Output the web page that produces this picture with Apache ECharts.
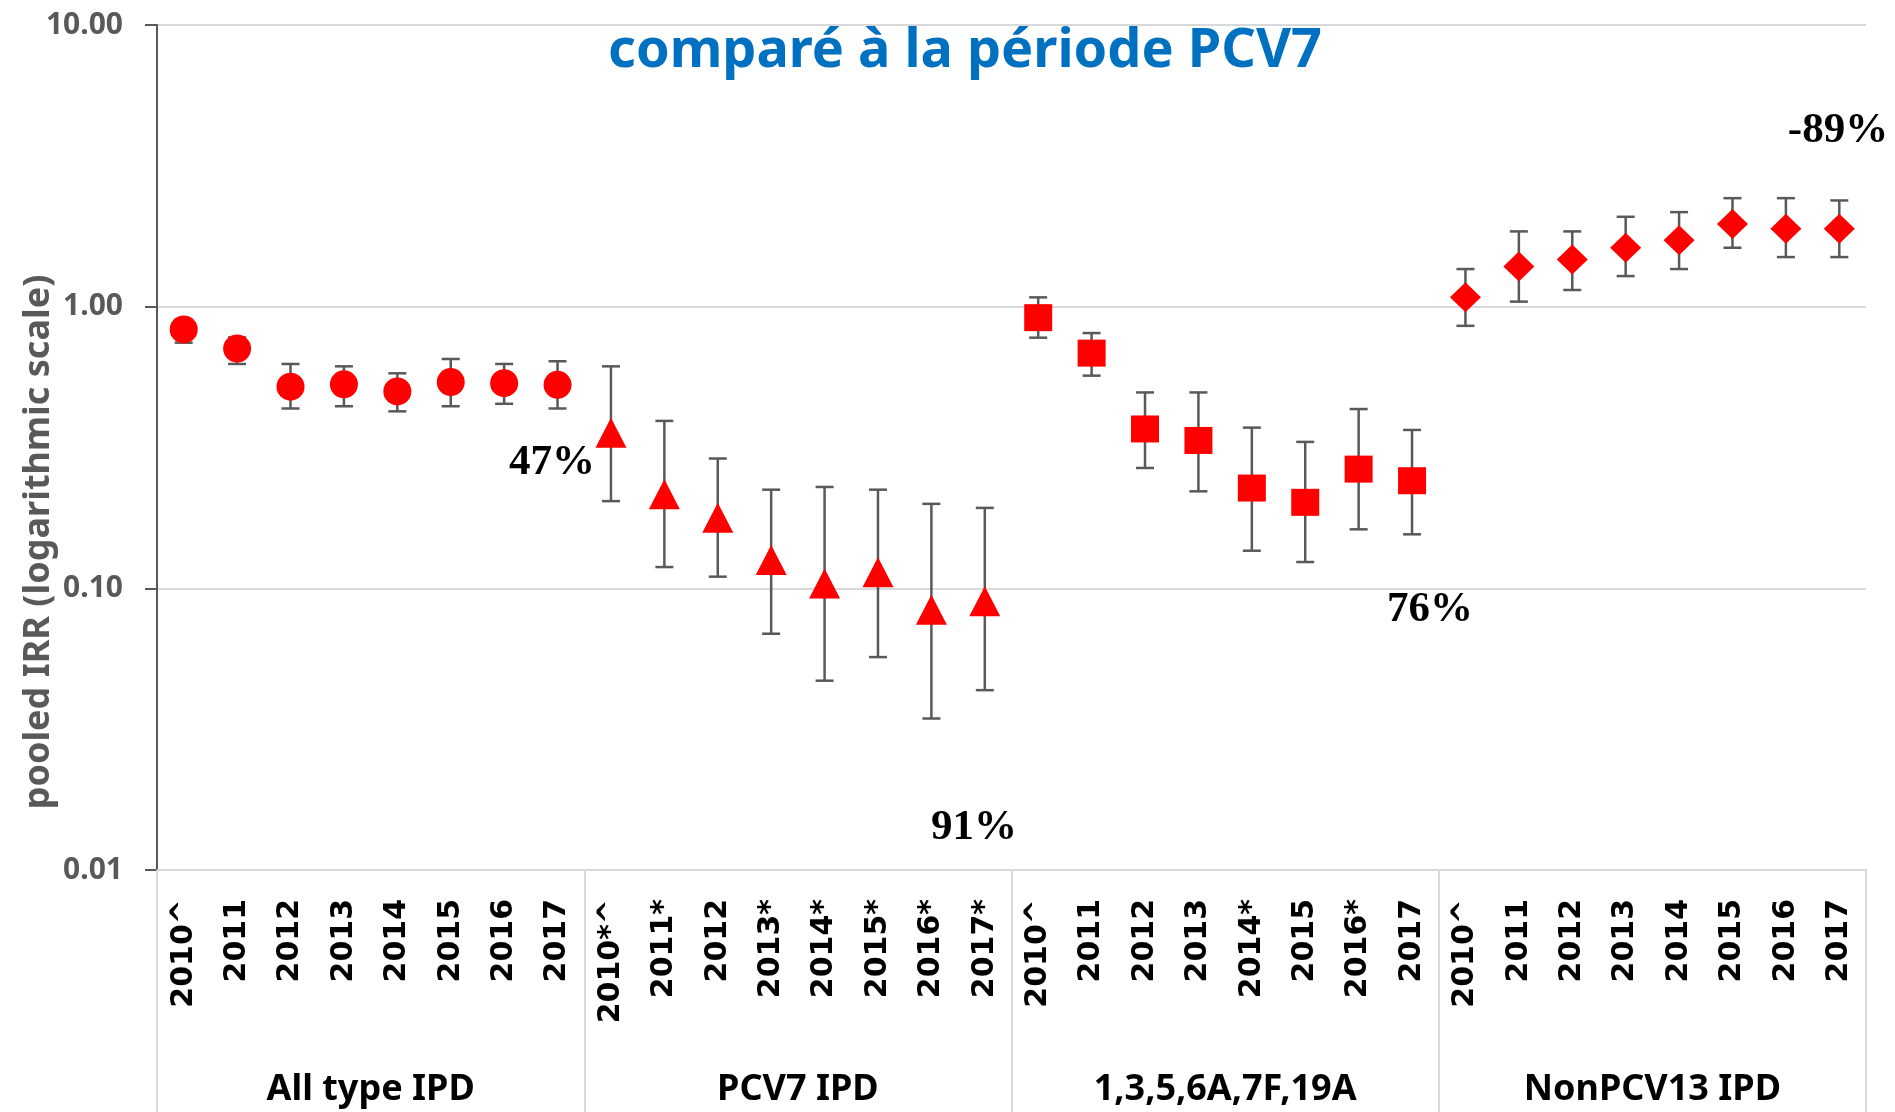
<!DOCTYPE html>
<html><head><meta charset="utf-8">
<script src="https://cdn.jsdelivr.net/npm/echarts@6/dist/echarts.min.js"></script>
<style>html,body{margin:0;padding:0;background:#fff}#c{width:1895px;height:1112px}</style>
</head><body><div id="c"></div>
<script>
// ---- data ----
const categories = [
  '2010^','2011','2012','2013','2014','2015','2016','2017',
  '2010*^','2011*','2012','2013*','2014*','2015*','2016*','2017*',
  '2010^','2011','2012','2013','2014*','2015','2016*','2017',
  '2010^','2011','2012','2013','2014','2015','2016','2017'
];
const groupNames = ['All type IPD', 'PCV7 IPD', '1,3,5,6A,7F,19A', 'NonPCV13 IPD'];
const yTickLabels = ['0.01', '0.10', '1.00', '10.00'];

const allTypeIRR  = [0.83, 0.71, 0.52, 0.53, 0.50, 0.54, 0.535, 0.528];
const allTypeLow  = [0.745, 0.626, 0.435, 0.443, 0.425, 0.443, 0.452, 0.435];
const allTypeHigh = [0.90, 0.778, 0.626, 0.614, 0.580, 0.652, 0.626, 0.640];

const pcv7IRR  = [0.357, 0.216, 0.178, 0.126, 0.104, 0.114, 0.084, 0.090];
const pcv7Low  = [0.204, 0.119, 0.110, 0.069, 0.047, 0.057, 0.0345, 0.0435];
const pcv7High = [0.614, 0.393, 0.289, 0.224, 0.229, 0.224, 0.1995, 0.193];

const seroIRR  = [0.914, 0.684, 0.368, 0.335, 0.227, 0.202, 0.265, 0.241];
const seroLow  = [0.776, 0.569, 0.2675, 0.221, 0.136, 0.124, 0.162, 0.1555];
const seroHigh = [1.079, 0.806, 0.496, 0.496, 0.372, 0.331, 0.433, 0.365];

const nonIRR  = [1.08, 1.39, 1.47, 1.62, 1.72, 1.965, 1.89, 1.89];
const nonLow  = [0.855, 1.042, 1.146, 1.284, 1.36, 1.619, 1.50, 1.50];
const nonHigh = [1.36, 1.85, 1.85, 2.085, 2.166, 2.428, 2.428, 2.383];

const annotations = ['47%', '91%', '76%', '-89%'];
const titleText = 'comparé à la période PCV7';
const yAxisTitle = 'pooled IRR (logarithmic scale)';

// ---- chart ----
const groups = [
  {name: groupNames[0], v: allTypeIRR, lo: allTypeLow, hi: allTypeHigh, symbol: 'circle', size: 28},
  {name: groupNames[1], v: pcv7IRR, lo: pcv7Low, hi: pcv7High, symbol: 'triangle', size: [31, 30]},
  {name: groupNames[2], v: seroIRR, lo: seroLow, hi: seroHigh, symbol: 'rect', size: [28, 27]},
  {name: groupNames[3], v: nonIRR, lo: nonLow, hi: nonHigh, symbol: 'diamond', size: [31, 30]}
];
const nPer = 8;
const errData = [];
groups.forEach((g, gi) => g.v.forEach((_, i) => errData.push([gi * nPer + i, g.lo[i], g.hi[i]])));

const series = [{
  type: 'custom',
  xAxisIndex: 0,
  z: 2,
  data: errData,
  encode: {x: 0, y: [1, 2]},
  renderItem: function (params, api) {
    const x = api.value(0);
    const pLo = api.coord([x, api.value(1)]);
    const pHi = api.coord([x, api.value(2)]);
    const hw = 9;
    const st = {stroke: '#595959', lineWidth: 2.5};
    return {
      type: 'group',
      children: [
        {type: 'line', shape: {x1: pLo[0], y1: pLo[1], x2: pHi[0], y2: pHi[1]}, style: st},
        {type: 'line', shape: {x1: pLo[0] - hw, y1: pLo[1], x2: pLo[0] + hw, y2: pLo[1]}, style: st},
        {type: 'line', shape: {x1: pHi[0] - hw, y1: pHi[1], x2: pHi[0] + hw, y2: pHi[1]}, style: st}
      ]
    };
  }
}];
groups.forEach((g, gi) => {
  series.push({
    type: 'scatter',
    name: g.name,
    xAxisIndex: 0,
    z: 5,
    symbol: g.symbol,
    symbolSize: g.size,
    itemStyle: {color: '#FF0000', opacity: 1},
    data: g.v.map((val, i) => [gi * nPer + i, val])
  });
});

const chart = echarts.init(document.getElementById('c'));
chart.setOption({
  animation: false,
  backgroundColor: '#fff',
  title: {
    text: titleText,
    left: 960,
    textAlign: 'center',
    top: 20,
    textStyle: {color: '#0070C0', fontFamily: 'Noto Sans', fontWeight: 'bold', fontSize: 54}
  },
  grid: {left: 157, right: 29, top: 25, bottom: 242, containLabel: false},
  xAxis: [{
    type: 'category',
    data: categories,
    boundaryGap: true,
    position: 'bottom',
    axisLine: {lineStyle: {color: '#D9D9D9', width: 2}},
    axisTick: {show: false},
    axisLabel: {
      interval: 0, rotate: 90, margin: 29,
      color: '#000', fontFamily: 'DejaVu Sans', fontWeight: 'bold', fontSize: 30
    },
    splitLine: {show: false}
  }, {
    type: 'category',
    data: groupNames,
    boundaryGap: true,
    position: 'bottom',
    axisLine: {show: false},
    axisTick: {show: true, length: 242, lineStyle: {color: '#D9D9D9', width: 2}},
    axisLabel: {
      interval: 0, margin: 202,
      color: '#000', fontFamily: 'Noto Sans', fontWeight: 'bold', fontSize: 36
    },
    splitLine: {show: false}
  }],
  yAxis: {
    type: 'log',
    logBase: 10,
    min: 0.01,
    max: 10,
    axisLine: {show: true, lineStyle: {color: '#595959', width: 2}},
    axisTick: {show: true, length: 12, lineStyle: {color: '#595959', width: 2}},
    axisLabel: {
      margin: 34,
      color: '#595959', fontFamily: 'Noto Sans', fontWeight: 'bold', fontSize: 30,
      formatter: function (v) {
        const idx = Math.round(Math.log10(v)) + 2;
        return yTickLabels[idx] !== undefined ? yTickLabels[idx] : '';
      }
    },
    splitLine: {show: true, lineStyle: {color: '#D9D9D9', width: 2}},
    minorTick: {show: false},
    minorSplitLine: {show: false}
  },
  graphic: [
    {type: 'text', x: 39, y: 542, rotation: Math.PI / 2,
     style: {text: yAxisTitle, fill: '#595959', font: 'bold 36px "Noto Sans"', align: 'center', verticalAlign: 'middle'}},
    {type: 'text', x: 552, y: 463, style: {text: annotations[0], fill: '#000', font: 'bold 43px "Liberation Serif"', align: 'center', verticalAlign: 'middle'}},
    {type: 'text', x: 974, y: 828, style: {text: annotations[1], fill: '#000', font: 'bold 43px "Liberation Serif"', align: 'center', verticalAlign: 'middle'}},
    {type: 'text', x: 1430, y: 610, style: {text: annotations[2], fill: '#000', font: 'bold 43px "Liberation Serif"', align: 'center', verticalAlign: 'middle'}},
    {type: 'text', x: 1838, y: 131, style: {text: annotations[3], fill: '#000', font: 'bold 43px "Liberation Serif"', align: 'center', verticalAlign: 'middle'}}
  ],
  series: series
});
</script>
</body></html>
